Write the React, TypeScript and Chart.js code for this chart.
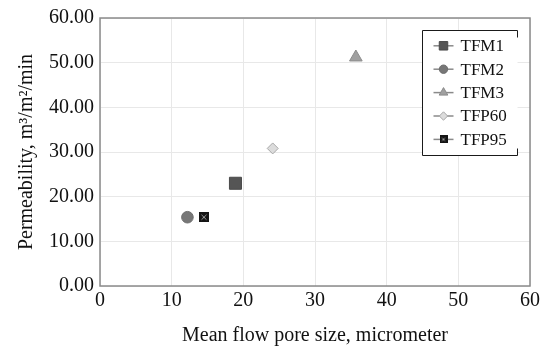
import { useEffect, useRef } from 'react';
import { Chart, registerables } from 'chart.js';
import { drawPoint } from 'chart.js/helpers';

Chart.register(...registerables);

const seriesNames = ['TFM1', 'TFM2', 'TFM3', 'TFP60', 'TFP95'];
const poreSize = [18.9, 12.2, 35.7, 24.1, 14.5];
const permeability = [23.0, 15.4, 51.2, 30.8, 15.4];
const xTickValues = [0, 10, 20, 30, 40, 50, 60];
const yTickValues = [0, 10, 20, 30, 40, 50, 60];

const FONT = "'Liberation Serif', 'DejaVu Serif', serif";

function makeCrossSquare(size: number) {
  const c = document.createElement('canvas');
  c.width = size;
  c.height = size;
  const g = c.getContext('2d')!;
  g.fillStyle = '#141414';
  g.fillRect(0, 0, size, size);
  g.strokeStyle = '#9a9a9a';
  g.lineWidth = 1;
  g.beginPath();
  g.moveTo(2.5, 2.5);
  g.lineTo(size - 2.5, size - 2.5);
  g.moveTo(size - 2.5, 2.5);
  g.lineTo(2.5, size - 2.5);
  g.stroke();
  return c;
}

export default function App() {
  const ref = useRef<HTMLCanvasElement>(null);
  useEffect(() => {
    document.body.style.margin = '0';
    const crossBig = makeCrossSquare(10);
    const crossSmall = makeCrossSquare(8);
    const styles = [
      { pointStyle: 'rect', radius: 8.5, legendRadius: 6, fill: '#555555', border: '#4a4a4a' },
      { pointStyle: 'circle', radius: 5.8, legendRadius: 4.2, fill: '#777777', border: '#6e6e6e' },
      { pointStyle: 'triangle', radius: 7.3, legendRadius: 5, fill: '#a0a0a0', border: '#8c8c8c' },
      { pointStyle: 'rectRot', radius: 5.5, legendRadius: 4.2, fill: '#dcdcdc', border: '#a8a8a8' },
      { pointStyle: crossBig as any, radius: 5, legendRadius: 4, fill: '#141414', border: '#141414', legendImg: crossSmall },
    ];

    const legendPlugin = {
      id: 'boxLegend',
      afterDraw(chart: any) {
        const { ctx, chartArea } = chart;
        ctx.save();
        ctx.strokeStyle = '#8a8a8a';
        ctx.lineWidth = 1.5;
        ctx.strokeRect(chartArea.left, chartArea.top, chartArea.right - chartArea.left, chartArea.bottom - chartArea.top);
        ctx.restore();

        const right = Math.round(chartArea.right - 13) + 0.5;
        const left = right - 95;
        const top = Math.round(chartArea.top + 12) + 0.5;
        const bottom = top + 125;
        ctx.save();
        ctx.fillStyle = '#ffffff';
        ctx.fillRect(left, top, right - left, bottom - top);
        ctx.strokeStyle = '#1a1a1a';
        ctx.lineWidth = 1;
        ctx.beginPath();
        ctx.moveTo(right, top + 7);
        ctx.lineTo(right, top);
        ctx.lineTo(left, top);
        ctx.lineTo(left, bottom);
        ctx.lineTo(right, bottom);
        ctx.lineTo(right, bottom - 7);
        ctx.stroke();
        ctx.font = `17px ${FONT}`;
        ctx.textBaseline = 'middle';
        seriesNames.forEach((name, i) => {
          const s = styles[i];
          const y = top + 15.3 + i * 23.4;
          ctx.strokeStyle = '#8a8a8a';
          ctx.lineWidth = 1.5;
          ctx.beginPath();
          ctx.moveTo(left + 11, y);
          ctx.lineTo(left + 31, y);
          ctx.stroke();
          ctx.fillStyle = s.fill;
          ctx.strokeStyle = s.border;
          ctx.lineWidth = 1;
          drawPoint(ctx, {
            pointStyle: (s as any).legendImg || s.pointStyle,
            radius: s.legendRadius,
            borderWidth: 1,
            rotation: 0,
          } as any, left + 21, y);
          ctx.fillStyle = '#111111';
          ctx.fillText(name, left + 38, y + 1);
        });
        ctx.restore();
      },
    };

    const chart = new Chart(ref.current!, {
      type: 'scatter',
      data: {
        datasets: seriesNames.map((name, i) => ({
          label: name,
          data: [{ x: poreSize[i], y: permeability[i] }],
          pointStyle: styles[i].pointStyle as any,
          pointRadius: styles[i].radius,
          backgroundColor: styles[i].fill,
          borderColor: styles[i].border,
          borderWidth: 1,
        })),
      },
      options: {
        animation: false,
        responsive: false,
        maintainAspectRatio: false,
        layout: { padding: { left: 0, right: 13, top: 13, bottom: 1 } },
        plugins: {
          legend: { display: false },
          tooltip: { enabled: false },
        },
        scales: {
          x: {
            type: 'linear',
            min: 0,
            max: 60,
            afterBuildTicks: (scale: any) => {
              scale.ticks = xTickValues.map((v) => ({ value: v }));
            },
            afterFit: (scale: any) => {
              scale.height = 62;
            },
            ticks: {
              color: '#111111',
              font: { family: FONT, size: 20 },
              padding: 3,
              maxRotation: 0,
            },
            grid: { color: '#e8e8e8', drawTicks: false, lineWidth: 1 },
            border: { display: false },
            title: {
              display: true,
              text: 'Mean flow pore size, micrometer',
              color: '#111111',
              font: { family: FONT, size: 20 },
              padding: { top: 0, bottom: 0 },
            },
          },
          y: {
            type: 'linear',
            min: 0,
            max: 60,
            afterBuildTicks: (scale: any) => {
              scale.ticks = yTickValues.map((v) => ({ value: v }));
            },
            afterFit: (scale: any) => {
              scale.width = 100;
            },
            ticks: {
              color: '#111111',
              font: { family: FONT, size: 20 },
              padding: 6,
              callback: (v: any) => Number(v).toFixed(2),
            },
            grid: { color: '#e8e8e8', drawTicks: false, lineWidth: 1 },
            border: { display: false },
            title: {
              display: true,
              text: 'Permeability, m³/m²/min',
              color: '#111111',
              font: { family: FONT, size: 20 },
              padding: { top: 15, bottom: 0 },
            },
          },
        },
      },
      plugins: [legendPlugin],
    });
    return () => chart.destroy();
  }, []);
  return (
    <div style={{ width: 543, height: 349 }}>
      <canvas ref={ref} width={543} height={349} style={{ display: 'block', width: 543, height: 349 }} />
    </div>
  );
}
